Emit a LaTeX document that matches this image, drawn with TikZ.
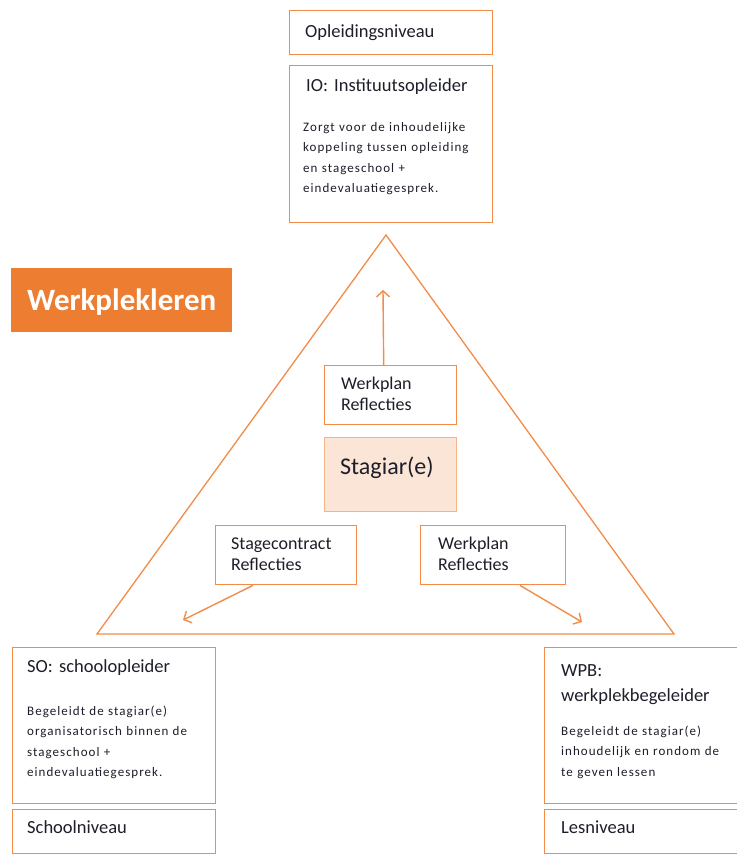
\documentclass[tikz,border=0pt]{standalone}
\usepackage{fontspec}
\setmainfont{Carlito}
\newfontfamily\smallfnt[LetterSpace=8]{Carlito}
\usetikzlibrary{arrows.meta}
\definecolor{lineor}{HTML}{F28C48}
\definecolor{fillor}{HTML}{ED7D31}
\definecolor{stfill}{HTML}{FBE5D6}
\definecolor{stline}{HTML}{F6B48A}
\definecolor{txtc}{HTML}{1E1E2A}
\begin{document}
\begin{tikzpicture}[x=1pt,y=-1pt,
  box/.style={draw=lineor, line width=1.4pt, fill=white, inner sep=0pt, anchor=north west},
  lbl/.style={anchor=base west, inner sep=0pt, text width=190pt, align=left, text=txtc, font=\fontsize{18.5}{25}\selectfont},
  mid/.style={anchor=base west, inner sep=0pt, text width=130pt, align=left, text=txtc, font=\fontsize{18}{21}\selectfont},
  small/.style={anchor=base west, inner sep=0pt, text width=200pt, align=left, text=txtc, font=\smallfnt\fontsize{13}{20.5}\selectfont},
  conn/.style={draw=lineor, line width=1.4pt, -{Straight Barb[length=6pt,width=13pt,line width=1.4pt]}}]
\useasboundingbox (0,0) rectangle (737,855);

% triangle
\coordinate (apex) at (386,235);
\coordinate (bl) at (97,634);
\coordinate (br) at (674,634);
\draw[lineor, line width=1.3pt, line join=miter] (apex) -- (bl) -- (br) -- cycle;

% top boxes
\node[box, minimum width=203pt, minimum height=44pt] (opl) at (289,10) {};
\node[lbl] (opltxt) at (305,37) {Opleidingsniveau};
\node[box, minimum width=203pt, minimum height=157pt] (io) at (289,65) {};
\node[lbl] (iotitle) at (306,91) {IO: Instituutsopleider};
\node[small] (iotxt) at (303,131) {Zorgt voor de inhoudelijke\\koppeling tussen opleiding\\en stageschool +\\eindevaluatiegesprek.};

% Werkplekleren
\node[fill=fillor, minimum width=221pt, minimum height=64pt, inner sep=0pt, anchor=north west] (wpl) at (11,268) {};
\node[text=white, font=\fontsize{31}{34}\selectfont\bfseries, inner sep=0pt] (wpltxt) at ([yshift=-2pt]wpl.center) {Werkplekleren};

% central boxes
\node[box, minimum width=132pt, minimum height=59pt] (wp1) at (324,365) {};
\node[mid] (wp1txt) at (341,389) {Werkplan\\Reflecties};
\node[box, draw=stline, fill=stfill, minimum width=132pt, minimum height=74pt] (stag) at (324,437) {};
\node[anchor=base west, inner sep=0pt, text=txtc, font=\fontsize{24}{28}\selectfont] (stagtxt) at (340,474) {Stagiar(e)};
\node[box, minimum width=141pt, minimum height=59pt] (sc) at (215,525) {};
\node[mid] (sctxt) at (231,549) {Stagecontract\\Reflecties};
\node[box, minimum width=145pt, minimum height=59pt] (wp2) at (420,525) {};
\node[mid] (wp2txt) at (438,549) {Werkplan\\Reflecties};

% arrows
\coordinate (uptip) at (383,290);
\coordinate (lefttip) at (183,620);
\coordinate (righttip) at (582,622);
\draw[conn] ([xshift=-7pt]wp1.north) -- (uptip);
\draw[conn] ([xshift=38pt]sc.south west) -- (lefttip);
\draw[conn] ([xshift=100pt]wp2.south west) -- (righttip);

% bottom left
\node[box, minimum width=203pt, minimum height=156pt] (so) at (12,647) {};
\node[lbl] (sotitle) at (27,672) {SO: schoolopleider};
\node[small] (sotxt) at (27,715) {Begeleidt de stagiar(e)\\organisatorisch binnen de\\stageschool +\\eindevaluatiegesprek.};
\node[box, minimum width=203pt, minimum height=44pt] (schn) at (12,809) {};
\node[lbl] (schntxt) at (27,833) {Schoolniveau};

% bottom right
\node[box, minimum width=200pt, minimum height=156pt] (wpb) at (544,647) {};
\node[lbl] (wpbtitle) at (561,676) {WPB:\\werkplekbegeleider};
\node[small] (wpbtxt) at (561,735) {Begeleidt de stagiar(e)\\inhoudelijk en rondom de\\te geven lessen};
\node[box, minimum width=200pt, minimum height=44pt] (lesn) at (544,809) {};
\node[lbl] (lesntxt) at (561,833) {Lesniveau};
\end{tikzpicture}
\end{document}
